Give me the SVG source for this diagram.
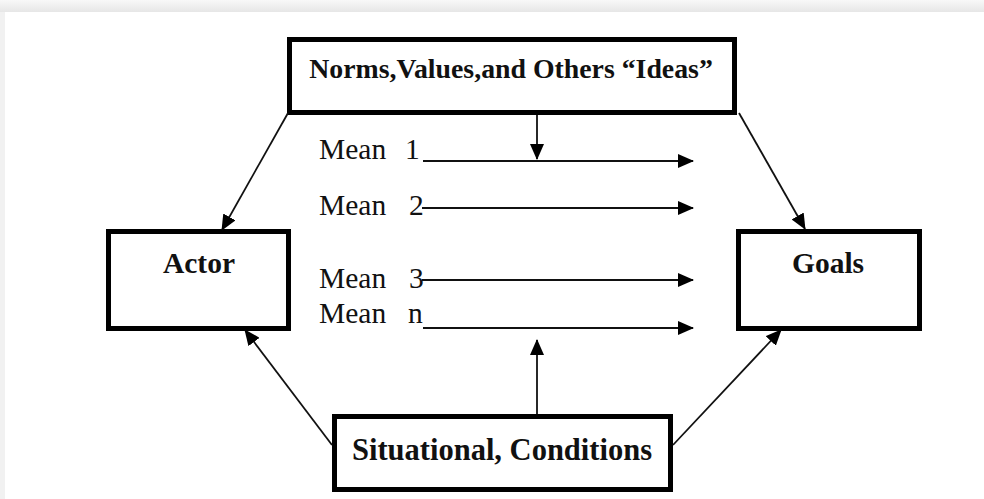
<svg xmlns="http://www.w3.org/2000/svg" width="984" height="499" viewBox="0 0 984 499">
  <defs>
    <linearGradient id="topband" x1="0" y1="0" x2="0" y2="1">
      <stop offset="0" stop-color="#f8f8f8"/>
      <stop offset="1" stop-color="#e6e6e6"/>
    </linearGradient>
    <marker id="ah" markerUnits="userSpaceOnUse" markerWidth="16" markerHeight="14" viewBox="0 0 16 14" refX="15" refY="7" orient="auto">
      <path d="M0,0 L16,7 L0,14 Z" fill="#000"/>
    </marker>
    <style>
      .box { fill: #fff; stroke: #000; stroke-width: 5; }
      .lbl { font-family: "Liberation Serif", "Times New Roman", serif; font-weight: bold; fill: #111; }
      .mean { font-family: "Liberation Serif", "Times New Roman", serif; font-size: 29.5px; fill: #111; }
      .conn line { stroke: #111; stroke-width: 1.8; marker-end: url(#ah); }
    </style>
  </defs>

  <rect x="0" y="0" width="984" height="499" fill="#f1f1f1"/>
  <rect x="0" y="0" width="984" height="12" fill="url(#topband)"/>
  <rect x="5" y="12" width="979" height="487" fill="#fff"/>

  <g id="norms">
    <rect class="box" x="289.5" y="39.5" width="445" height="73"/>
    <text class="lbl" x="511" y="78" font-size="27.8" text-anchor="middle">Norms,Values,and Others “Ideas”</text>
  </g>
  <g id="actor">
    <rect class="box" x="108.5" y="231.5" width="180" height="97"/>
    <text class="lbl" x="199" y="273" font-size="29.5" text-anchor="middle">Actor</text>
  </g>
  <g id="goals">
    <rect class="box" x="738.5" y="231.5" width="181" height="97"/>
    <text class="lbl" x="828" y="273" font-size="29.5" text-anchor="middle">Goals</text>
  </g>
  <g id="situational">
    <rect class="box" x="334.5" y="416.5" width="336" height="73"/>
    <text class="lbl" x="502" y="460" font-size="30.5" text-anchor="middle">Situational, Conditions</text>
  </g>

  <g id="means">
    <text class="mean" x="319" y="159">Mean<tspan x="405">1</tspan></text>
    <text class="mean" x="319" y="215">Mean<tspan x="409">2</tspan></text>
    <text class="mean" x="319" y="288">Mean<tspan x="409">3</tspan></text>
    <text class="mean" x="319" y="323">Mean<tspan x="408">n</tspan></text>
  </g>

  <g id="connectors" class="conn">
    <line x1="288" y1="113" x2="222" y2="230"/>
    <line x1="739" y1="113" x2="805" y2="229"/>
    <line x1="332" y1="445" x2="245" y2="330"/>
    <line x1="673" y1="445" x2="781" y2="330"/>
    <line x1="537" y1="115" x2="537" y2="159"/>
    <line x1="537" y1="414" x2="537" y2="340"/>
    <line x1="423" y1="161" x2="693" y2="161"/>
    <line x1="422" y1="208" x2="693" y2="208"/>
    <line x1="422" y1="280" x2="693" y2="280"/>
    <line x1="423" y1="328" x2="693" y2="328"/>
  </g>
</svg>
